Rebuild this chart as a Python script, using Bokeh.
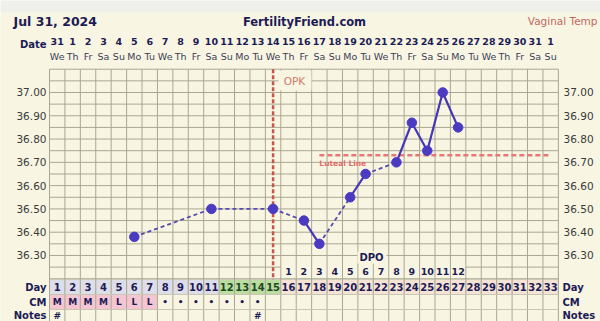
from bokeh.plotting import figure
from bokeh.models import Range1d
from bokeh.core.properties import value
from bokeh.embed import file_html
from bokeh.resources import INLINE

# ---------------- data ----------------
title_date = "Jul 31, 2024"
site_name = "FertilityFriend.com"
temp_method = "Vaginal Temp"

calendar_dates = ["31", "1", "2", "3", "4", "5", "6", "7", "8", "9", "10", "11", "12", "13", "14", "15",
                  "16", "17", "18", "19", "20", "21", "22", "23", "24", "25", "26", "27", "28", "29",
                  "30", "31", "1"]
weekdays = ["We", "Th", "Fr", "Sa", "Su", "Mo", "Tu", "We", "Th", "Fr", "Sa", "Su", "Mo", "Tu", "We",
            "Th", "Fr", "Sa", "Su", "Mo", "Tu", "We", "Th", "Fr", "Sa", "Su", "Mo", "Tu", "We", "Th",
            "Fr", "Sa", "Su"]
cycle_days = [1, 2, 3, 4, 5, 6, 7, 8, 9, 10, 11, 12, 13, 14, 15, 16, 17, 18, 19, 20, 21, 22, 23, 24,
              25, 26, 27, 28, 29, 30, 31, 32, 33]
fertile_days = [12, 13, 14, 15]
luteal_days = [16, 17, 18, 19, 20, 21, 22, 23, 24, 25, 26, 27, 28, 29, 30, 31, 32, 33]

temp_days = [6, 11, 15, 17, 18, 20, 21, 23, 24, 25, 26, 27]
temps = [36.38, 36.50, 36.50, 36.45, 36.35, 36.55, 36.65, 36.70, 36.87, 36.75, 37.00, 36.85]

temp_ticks = [36.30, 36.40, 36.50, 36.60, 36.70, 36.80, 36.90, 37.00]

cm_days = [1, 2, 3, 4, 5, 6, 7, 8, 9, 10, 11, 12, 13, 14]
cm_values = ["M", "M", "M", "M", "L", "L", "L", "•", "•", "•", "•", "•", "•", "•"]
cm_pink_days = [1, 2, 3, 4, 5, 6, 7]
note_days = [1, 14]
note_values = ["#", "#"]

opk_day = 15
coverline_temp = 36.73
coverline_start_day = 18
coverline_end_day = 33
dpo_days = [16, 17, 18, 19, 20, 21, 22, 23, 24, 25, 26, 27]
dpo_labels = ["1", "2", "3", "4", "5", "6", "7", "8", "9", "10", "11", "12"]

# ---------------- layout constants ----------------
W, H = 600, 321
GRID_LEFT = 49.0
COL_W = 15.42
T_TOP = 37.395
PX_PER_DEG = 232.86
T_BOTTOM = T_TOP - H / PX_PER_DEG
GRID_TOP_T = 37.10
GRID_BOTTOM_T = 36.20
DAY_ROW = (279, 294)
CM_ROW = (294, 309)
NOTES_ROW = (309, 325)

BG = "#f8f6e2"
GRID = "#a9a792"
NAVY = "#1d1b55"
FONT = value("DejaVu Sans")
N = len(cycle_days)

p = figure(width=W, height=H, output_backend="svg", toolbar_location=None,
           x_range=Range1d(-GRID_LEFT / COL_W, (W - GRID_LEFT) / COL_W),
           y_range=Range1d(H, 0),
           x_axis_location=None, y_axis_location=None, min_border=0,
           background_fill_color=BG, border_fill_color=BG, outline_line_color=None)
p.extra_x_ranges = {"px": Range1d(0, W)}
p.extra_y_ranges = {"temp": Range1d(T_BOTTOM, T_TOP)}
p.grid.grid_line_color = None

# top light strip
p.quad(left=[0], right=[W], top=[0], bottom=[12], x_range_name="px",
       fill_color="#efefec", line_color=None)

centers = [d - 0.5 for d in cycle_days]

# ---- table rows background ----
day_colors = []
for d in cycle_days:
    if d in fertile_days:
        day_colors.append("#bcdda2")
    elif d in luteal_days:
        day_colors.append("#f5e3d6")
    else:
        day_colors.append("#dddee9")
p.quad(left=[d - 1 for d in cycle_days], right=cycle_days, top=[DAY_ROW[0]] * N,
       bottom=[DAY_ROW[1]] * N, fill_color=day_colors, line_color="#d8d6c4", line_width=1)
p.quad(left=[d - 1 for d in cm_pink_days], right=cm_pink_days, top=[CM_ROW[0]] * len(cm_pink_days),
       bottom=[CM_ROW[1]] * len(cm_pink_days), fill_color="#f3c6d2", line_color=None)

# ---- grid ----
edges = list(range(0, N + 1))
p.segment(x0=edges, x1=edges, y0=[68.7] * len(edges), y1=[H] * len(edges),
          line_color=GRID, line_width=1)
hl = []
t = GRID_BOTTOM_T
while t <= GRID_TOP_T + 1e-6:
    hl.append(round(t, 2))
    t += 0.05
hx0, hx1, hy = [], [], []
for v in hl:
    if abs(v - 36.25) < 1e-6:
        hx0 += [0, dpo_days[-1]]
        hx1 += [opk_day, N]
        hy += [v, v]
    else:
        hx0.append(0)
        hx1.append(N)
        hy.append(v)
p.segment(x0=hx0, x1=hx1, y0=hy, y1=hy, y_range_name="temp", line_color=GRID, line_width=1)
rows_y = [CM_ROW[0], NOTES_ROW[0]]
p.segment(x0=[0, 0], x1=[N, N], y0=rows_y, y1=rows_y, line_color="#c9c7b2", line_width=1)

# ---- header ----
p.text(x=[13], y=[21], text=[title_date], x_range_name="px", text_font=FONT,
       text_font_style="bold", text_font_size="12.5px", text_color=NAVY,
       text_baseline="middle", text_align="left")
p.text(x=[304], y=[21], text=[site_name], x_range_name="px", text_font=FONT,
       text_font_style="bold", text_font_size="11.5px", text_color=NAVY,
       text_baseline="middle", text_align="center")
p.text(x=[597], y=[20], text=[temp_method], x_range_name="px", text_font=FONT,
       text_font_size="10.5px", text_color="#c2685f", text_baseline="middle", text_align="right")
p.text(x=[46], y=[44], text=["Date"], x_range_name="px", text_font=FONT,
       text_font_style="bold", text_font_size="10px", text_color=NAVY,
       text_baseline="middle", text_align="right")
p.text(x=centers, y=[41] * N, text=calendar_dates, text_font=FONT, text_font_style="bold",
       text_font_size="9.5px", text_color=NAVY, text_baseline="middle", text_align="center")
p.text(x=centers, y=[56] * N, text=weekdays, text_font=FONT, text_font_size="9.5px",
       text_color="#3c3c5a", text_baseline="middle", text_align="center")

# ---- temperature tick labels ----
tick_txt = ["%.2f" % v for v in temp_ticks]
nt = len(temp_ticks)
p.text(x=[46] * nt, y=temp_ticks, text=tick_txt, x_range_name="px", y_range_name="temp",
       text_font=FONT, text_font_size="10.5px", text_color="#3a3a3a",
       text_baseline="middle", text_align="right")
p.text(x=[563] * nt, y=temp_ticks, text=tick_txt, x_range_name="px", y_range_name="temp",
       text_font=FONT, text_font_size="10.5px", text_color="#3a3a3a",
       text_baseline="middle", text_align="left")

# ---- OPK line ----
p.segment(x0=[opk_day - 0.5], x1=[opk_day - 0.5], y0=[68.7], y1=[DAY_ROW[0]],
          line_color="#c8554c", line_width=2.5, line_dash="4 2")
p.quad(left=[278], right=[311], top=[70], bottom=[90], x_range_name="px",
       fill_color=BG, line_color=None)
p.text(x=[294], y=[80], text=["OPK"], x_range_name="px", text_font=FONT,
       text_font_size="10.5px", text_color="#d2786c", text_baseline="middle", text_align="center")

# ---- coverline ----
p.segment(x0=[coverline_start_day - 0.5], x1=[coverline_end_day - 0.5],
          y0=[coverline_temp], y1=[coverline_temp], y_range_name="temp",
          line_color="#e47a78", line_width=2.5, line_dash="5 3")
p.text(x=[coverline_start_day - 0.5], y=[coverline_temp - 0.035], text=["Luteal Line"],
       y_range_name="temp", text_font=FONT, text_font_style="bold", text_font_size="7.5px",
       text_color="#e26c6c", text_baseline="middle", text_align="left")

# ---- DPO ----
p.quad(left=[357], right=[386], top=[251], bottom=[263], x_range_name="px",
       fill_color=BG, line_color=None)
p.text(x=[371], y=[257], text=["DPO"], x_range_name="px", text_font=FONT,
       text_font_style="bold", text_font_size="10px", text_color=NAVY,
       text_baseline="middle", text_align="center")
p.text(x=[d - 0.5 for d in dpo_days], y=[271] * len(dpo_days), text=dpo_labels, text_font=FONT,
       text_font_style="bold", text_font_size="9.5px", text_color=NAVY,
       text_baseline="middle", text_align="center")

# ---- temperature curve ----
sx0, sx1, sy0, sy1 = [], [], [], []
dx0, dx1, dy0, dy1 = [], [], [], []
for i in range(len(temp_days) - 1):
    a, b = temp_days[i], temp_days[i + 1]
    if b - a == 1:
        sx0.append(a - 0.5); sx1.append(b - 0.5); sy0.append(temps[i]); sy1.append(temps[i + 1])
    else:
        dx0.append(a - 0.5); dx1.append(b - 0.5); dy0.append(temps[i]); dy1.append(temps[i + 1])
p.segment(x0=dx0, x1=dx1, y0=dy0, y1=dy1, y_range_name="temp", line_color="#574cae",
          line_width=1.8, line_dash="4 3")
p.segment(x0=sx0, x1=sx1, y0=sy0, y1=sy1, y_range_name="temp", line_color="#4536b8",
          line_width=2.2)
p.scatter(x=[d - 0.5 for d in temp_days], y=temps, y_range_name="temp", size=9.5,
          fill_color="#4a3bc2", line_color="#4a3bc2")

# ---- table texts ----
day_text_colors = ["#1d4a1d" if d in fertile_days else NAVY for d in cycle_days]
p.text(x=centers, y=[sum(DAY_ROW) / 2] * N, text=[str(d) for d in cycle_days], text_font=FONT,
       text_font_style="bold", text_font_size="10px", text_color=day_text_colors,
       text_baseline="middle", text_align="center")
p.text(x=[d - 0.5 for d in cm_days], y=[sum(CM_ROW) / 2] * len(cm_days), text=cm_values,
       text_font=FONT, text_font_style="bold", text_font_size="9px", text_color=NAVY,
       text_baseline="middle", text_align="center")
p.text(x=[d - 0.5 for d in note_days], y=[315] * len(note_days), text=note_values,
       text_font=FONT, text_font_style="bold", text_font_size="9px", text_color=NAVY,
       text_baseline="middle", text_align="center")

row_names = ["Day", "CM", "Notes"]
row_y = [287, 301.5, 314.5]
p.text(x=[46] * 3, y=row_y, text=row_names, x_range_name="px", text_font=FONT,
       text_font_style="bold", text_font_size="10px", text_color=NAVY,
       text_baseline="middle", text_align="right")
p.text(x=[562] * 3, y=row_y, text=row_names, x_range_name="px", text_font=FONT,
       text_font_style="bold", text_font_size="10px", text_color=NAVY,
       text_baseline="middle", text_align="left")

open("out.html", "w").write(file_html(p, INLINE))
